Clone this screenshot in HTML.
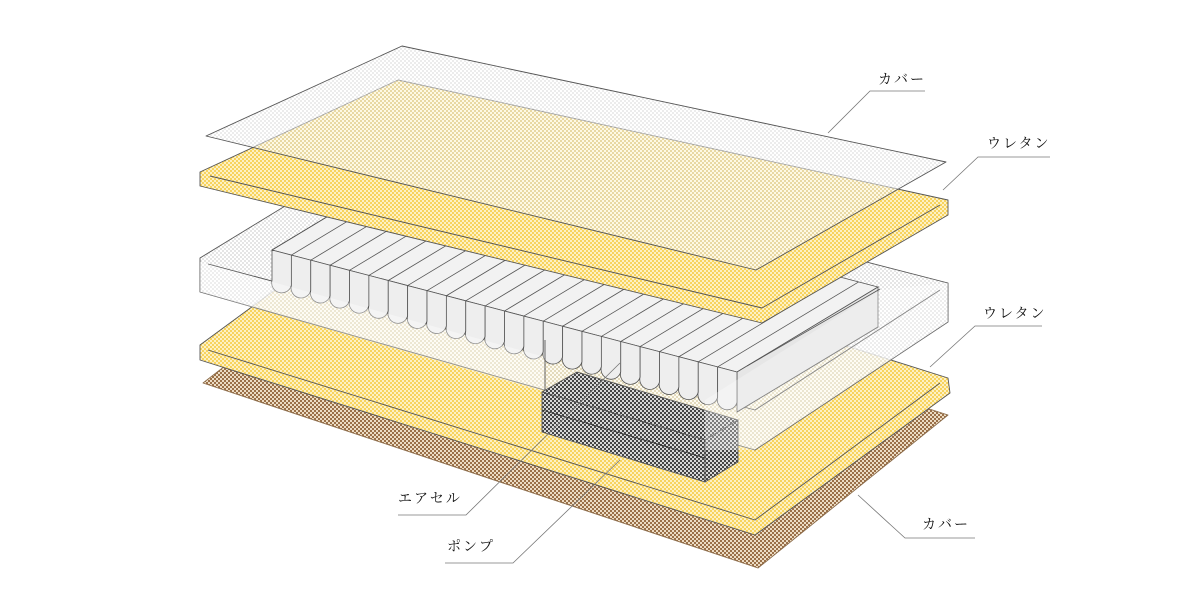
<!DOCTYPE html>
<html><head><meta charset="utf-8">
<style>
html,body{margin:0;padding:0;background:#fff;width:1200px;height:600px;overflow:hidden}
svg{display:block}
text{font-family:"Liberation Serif","Noto Serif CJK SC","Noto Sans CJK JP",serif;font-size:14px;fill:#111;letter-spacing:2px}
</style></head>
<body>
<svg id="s" width="1200" height="600" viewBox="0 0 1200 600" xmlns="http://www.w3.org/2000/svg">
<defs>
<pattern id="py" width="4" height="4" patternUnits="userSpaceOnUse">
<rect width="4" height="4" fill="#fdf1c4"/><rect width="2" height="2" fill="#f7d35e"/><rect x="2" y="2" width="2" height="2" fill="#f7d35e"/></pattern>
<pattern id="pg" width="4" height="4" patternUnits="userSpaceOnUse">
<rect width="4" height="4" fill="#ffffff"/><rect width="2" height="2" fill="#dcdcdc"/><rect x="2" y="2" width="2" height="2" fill="#dcdcdc"/></pattern>
<pattern id="pb" width="4" height="4" patternUnits="userSpaceOnUse">
<rect width="4" height="4" fill="#ecdcc4"/><rect width="2" height="2" fill="#9a7048"/><rect x="2" y="2" width="2" height="2" fill="#9a7048"/></pattern>
<pattern id="pd" width="4" height="4" patternUnits="userSpaceOnUse">
<rect width="4" height="4" fill="#d8d8d8"/><rect width="2" height="2" fill="#444"/><rect x="2" y="2" width="2" height="2" fill="#444"/></pattern>
</defs>
<g stroke="#555" stroke-width="0.9" stroke-linejoin="round" fill="none">
<polygon points="203,383 393,236 948,415 758,568" fill="url(#pb)" stroke="#8a6a48"/>
<polygon points="200,345 393,203 948,378 950,393 755,535 200,360" fill="url(#py)"/>
<polyline points="208,350 755,520 940,383" fill="none"/>
<polygon points="200,258 393,140 948,283 948,322 755,450 200,292" fill="url(#pg)" fill-opacity="0.75"/>
<polyline points="208,264 755,410 940,290" fill="none"/>
</g>
<g id="cells" stroke="#555" stroke-width="0.8" fill="#eeeeee"></g>
<g stroke="#555" stroke-width="0.9" stroke-linejoin="round" fill="none">
<polygon points="200,262 545,357 545,392 200,292" fill="#fff" fill-opacity="0.35" stroke="none"/>
<line x1="545" y1="340" x2="545" y2="392"/>
<polygon points="542,392 577,372 738,420 705,440" fill="url(#pd)"/>
<polygon points="542,392 705,440 705,482 542,432" fill="url(#pd)"/>
<polygon points="705,440 738,420 738,462 705,482" fill="url(#pd)"/>
<line x1="542" y1="410" x2="705" y2="458" stroke="#333"/>
<polygon points="705,400 880,290 948,283 948,322 755,450 705,450" fill="#fff" fill-opacity="0.3" stroke="none"/>
<polygon points="200,172 398,80 948,200 948,215 762,323 200,186" fill="url(#py)"/>
<polyline points="210,176 762,308 940,205" fill="none"/>
<polygon points="206,136 402,46 946,162 756,270" fill="url(#pg)" fill-opacity="0.55"/>
</g>
<g stroke="#777" stroke-width="0.8" fill="none">
<polyline points="828,133 870,91 925,91"/>
<polyline points="943,190 978,157 1050,157"/>
<polyline points="930,367 975,326 1042,326"/>
<polyline points="858,495 905,538 975,538"/>
<polyline points="398,515 466,515 620,363"/>
<polyline points="445,563 513,563 620,460"/>
</g>
<text x="878" y="84">カバー</text>
<text x="987" y="148">ウレタン</text>
<text x="983" y="318">ウレタン</text>
<text x="922" y="529">カバー</text>
<text x="398" y="503">エアセル</text>
<text x="447" y="551">ポンプ</text>
</svg>
<script>
(function(){
var g=document.getElementById('cells'),ns='http://www.w3.org/2000/svg';
var A=[272,250],B=[737,372],w=[141,-85],N=24,h=40;
function el(t,a){var e=document.createElementNS(ns,t);for(var k in a)e.setAttribute(k,a[k]);g.appendChild(e);return e;}
el('polygon',{points:A+' '+(A[0]+w[0])+','+(A[1]+w[1])+' '+(B[0]+w[0])+','+(B[1]+w[1])+' '+B,fill:'#f2f2f2'});
el('polygon',{points:B+' '+(B[0]+w[0])+','+(B[1]+w[1])+' '+(B[0]+w[0])+','+(B[1]+w[1]+h)+' '+B[0]+','+(B[1]+h),fill:'#e6e6e6'});
el('line',{x1:B[0]+10,y1:B[1]-6,x2:B[0]+w[0]+2,y2:B[1]+w[1]+2});
el('line',{x1:B[0],y1:B[1]+h,x2:B[0]+w[0],y2:B[1]+w[1]+h});
var dx=(B[0]-A[0])/N,dy=(B[1]-A[1])/N,r=dx/2;
for(var i=0;i<N;i++){
 var x0=A[0]+i*dx,y0=A[1]+i*dy,x1=x0+dx,y1=y0+dy;
 el('line',{x1:x0,y1:y0,x2:x0+w[0],y2:y0+w[1]});
 el('path',{d:'M'+x0+','+y0+' L'+x0+','+(y0+h-r)+' A'+r+','+r+' 0 0 0 '+x1+','+(y1+h-r)+' L'+x1+','+y1+' Z'});
}
})();
</script>
</body></html>
